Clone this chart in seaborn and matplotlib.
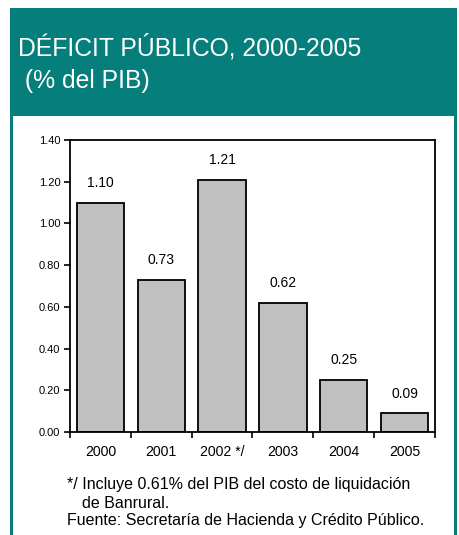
import matplotlib
matplotlib.use("Agg")
import matplotlib.pyplot as plt
import seaborn as sns
import pandas as pd
from matplotlib.patches import Rectangle

years = ["2000", "2001", "2002 */", "2003", "2004", "2005"]
deficit = [1.10, 0.73, 1.21, 0.62, 0.25, 0.09]
y_ticks = [0.0, 0.2, 0.4, 0.6, 0.8, 1.0, 1.2, 1.4]

title_line1 = "DÉFICIT PÚBLICO, 2000-2005"
title_line2 = " (% del PIB)"
note_lines = ["*/ Incluye 0.61% del PIB del costo de liquidación",
              "de Banrural.",
              "Fuente: Secretaría de Hacienda y Crédito Público."]

sns.set_style("white")
plt.rcParams["font.family"] = ["Liberation Sans", "DejaVu Sans"]
plt.rcParams["text.color"] = "black"
plt.rcParams["xtick.color"] = "black"
plt.rcParams["ytick.color"] = "black"

W, H = 459, 535
fig = plt.figure(figsize=(W / 100, H / 100), dpi=100)

teal = "#067f7c"

def px_rect(x0, y0, x1, y1, **kw):
    return Rectangle((x0 / W, 1 - y1 / H), (x1 - x0) / W, (y1 - y0) / H,
                     transform=fig.transFigure, **kw)

# framed panel: teal header and side borders, white body
fig.patches.append(px_rect(10, 8, 457, 535, facecolor=teal, edgecolor="none", zorder=-10))
fig.patches.append(px_rect(13, 116, 454, 535, facecolor="white", edgecolor="none", zorder=-9))

fig.text(18 / W, 1 - 47 / H, title_line1, color="white", fontsize=17.8,
         va="center", ha="left")
fig.text(18 / W, 1 - 81 / H, title_line2, color="white", fontsize=17.8,
         va="center", ha="left")

ax = fig.add_axes([70 / W, 1 - 432 / H, 365 / W, 292 / H])
df = pd.DataFrame({"year": years, "deficit": deficit})
sns.barplot(data=df, x="year", y="deficit", ax=ax, color="#c0c0c0",
            edgecolor="black", linewidth=1.3, width=0.78, saturation=1)

for p, v in zip(ax.patches, deficit):
    ax.annotate(f"{v:.2f}", (p.get_x() + p.get_width() / 2, v),
                xytext=(0, 14), textcoords="offset points",
                ha="center", va="center", fontsize=10, color="black")

ax.set_ylim(0, 1.4)
ax.set_yticks(y_ticks)
ax.set_yticklabels([f"{t:.2f}" for t in y_ticks], fontsize=8)
ax.set_xlim(-0.5, len(years) - 0.5)
ax.set_xticks([i - 0.5 for i in range(len(years) + 1)], minor=False)
ax.set_xticklabels([])
ax.set_xticks(range(len(years)), minor=True)
ax.set_xticklabels(years, minor=True, fontsize=10.2)
ax.tick_params(axis="x", which="minor", length=0, pad=9)
ax.tick_params(axis="x", which="major", direction="out", length=4, width=1.2,
               bottom=True)
ax.tick_params(axis="y", direction="out", length=4, width=1.2, left=True, pad=3)
ax.set_xlabel("")
ax.set_ylabel("")
for s in ax.spines.values():
    s.set_visible(True)
    s.set_color("black")
    s.set_linewidth(1.3)

note_x = [67, 82, 67]
note_y = [485, 503, 520]
for line, xx, yy in zip(note_lines, note_x, note_y):
    fig.text(xx / W, 1 - yy / H, line, fontsize=11.5, va="center", ha="left")

fig.savefig("out.png", dpi=100)
